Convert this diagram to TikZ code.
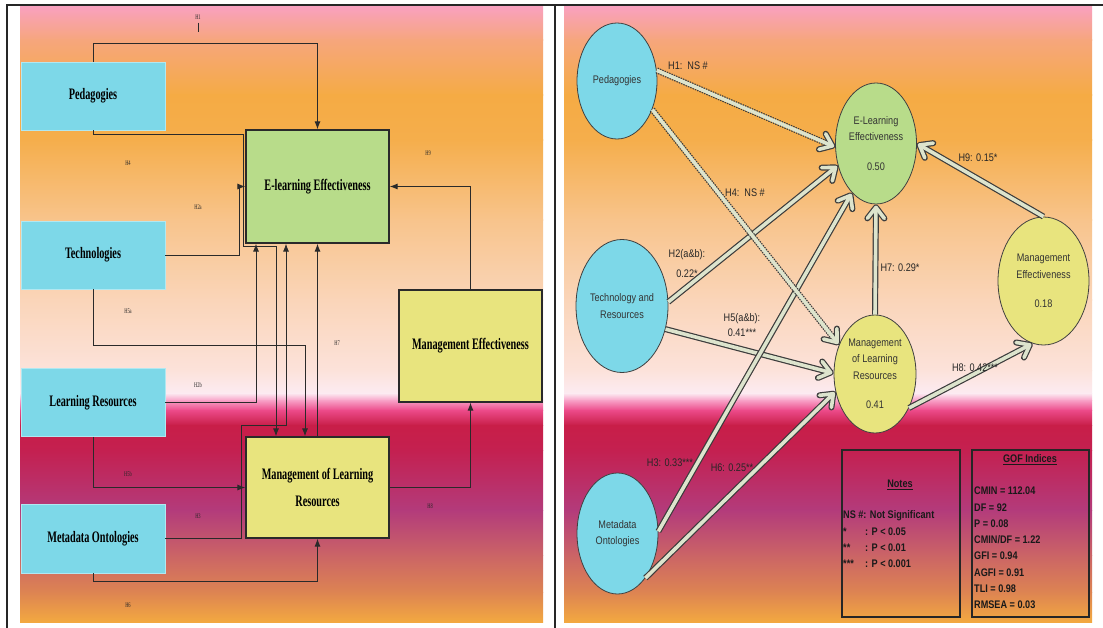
\documentclass[tikz,border=0pt]{standalone}
\usepackage{fontspec}
\setmainfont{Liberation Serif}
\newfontfamily\narrowserif[FakeStretch=0.64]{Liberation Serif}
\newfontfamily\narrowsans[FakeStretch=0.83]{Liberation Sans}
\usetikzlibrary{arrows.meta,shapes.geometric}

\definecolor{boxcyan}{HTML}{7DD8E8}
\definecolor{boxgreen}{HTML}{B8DC8A}
\definecolor{boxyellow}{HTML}{E8E47E}
\definecolor{lineink}{HTML}{2A2A2A}
\definecolor{arrfill}{HTML}{DDE4CD}
\definecolor{arrline}{HTML}{3C3C3C}
\definecolor{bgA}{HTML}{F9A1BE}
\definecolor{bgB}{HTML}{F6A67C}
\definecolor{bgC}{HTML}{F5AB44}
\definecolor{bgD}{HTML}{F5AE4C}
\definecolor{bgE}{HTML}{F8C48C}
\definecolor{bgF}{HTML}{FAD5B9}
\definecolor{bgG}{HTML}{FCE2DA}
\definecolor{bgH}{HTML}{FCEBF2}
\definecolor{bgI}{HTML}{F8A2C8}
\definecolor{bgJ}{HTML}{EC4B8A}
\definecolor{bgK}{HTML}{C81E48}
\definecolor{bgL}{HTML}{C42050}
\definecolor{bgM}{HTML}{B33B7B}
\definecolor{bgN}{HTML}{CB6466}
\definecolor{bgO}{HTML}{DD8452}
\definecolor{bgP}{HTML}{F3A940}

\begin{document}
\begin{tikzpicture}[x=1pt,y=-1pt,
 srcbox/.style={rectangle,fill=boxcyan,draw=boxcyan!60!white,line width=0.6pt,minimum width=144,minimum height=68,inner sep=0,font=\narrowserif\bfseries\fontsize{16}{18}\selectfont},
 tgtbox/.style={rectangle,draw=lineink,line width=1.2pt,minimum width=143,inner sep=0,align=center,font=\narrowserif\bfseries\fontsize{16}{27}\selectfont},
 link/.style={draw=lineink,line width=0.9pt,-{Latex[length=8pt,width=6pt]}},
 hlab/.style={font=\narrowserif\fontsize{7}{8}\selectfont,inner sep=0,text=black!85},
 latent/.style={ellipse,draw=black!75,line width=0.8pt,inner sep=0,align=center,text=black!80,font=\narrowsans\fontsize{11}{16.5}\selectfont},
 effect/.style={draw=arrline,line width=6pt,-{Straight Barb[round,length=11pt,width=17pt,line width=6pt]},
   postaction={draw=arrfill,line width=3.6pt,shorten >=1.2pt,-{Straight Barb[round,length=11pt,width=17pt,line width=3.6pt]}}},
 nseffect/.style={draw=arrline,line width=6pt,dash pattern=on 1.5pt off 1pt,-{Straight Barb[round,length=11pt,width=17pt,line width=6pt]},
   postaction={draw=arrfill,solid,line width=3.6pt,shorten >=1.2pt,-{Straight Barb[round,length=11pt,width=17pt,line width=3.6pt]}}},
 plab/.style={font=\narrowsans\fontsize{11}{15}\selectfont,inner sep=0,align=center,text=black!85},
 gofbox/.style={rectangle,draw=black!85,line width=1.3pt,minimum height=167,inner sep=0},
 goftext/.style={font=\narrowsans\bfseries\fontsize{11}{13}\selectfont,inner sep=0,anchor=west,text=black!90}]
\useasboundingbox (0,0) rectangle (1103,628);
\fill[white] (0,0) rectangle (1103,628);
%background
\foreach \ya/\ca/\yb/\cb in {7/bgA/40/bgB,40/bgB/95/bgC,95/bgC/140/bgD,140/bgD/220/bgE,220/bgE/300/bgF,
  300/bgF/370/bgG,370/bgG/393/bgH,393/bgH/400/bgI,400/bgI/410/bgJ,410/bgJ/425/bgK,425/bgK/450/bgL,
  450/bgL/510/bgM,510/bgM/555/bgN,555/bgN/592/bgO,592/bgO/622/bgP}{
  \shade[top color=\ca,bottom color=\cb] (20,\ya) rectangle (543,\yb+0.5);
  \shade[top color=\ca,bottom color=\cb] (564,\ya) rectangle (1092,\yb+0.5);
}
\draw[black!85,line width=1.3pt] (7,628) -- (7,5) -- (1103,5);
\draw[black!85,line width=1.3pt] (555,5) -- (555,628);

%left: sources
\node[srcbox] (ped) at (93,96) {Pedagogies};
\node[srcbox] (tech) at (93,255) {Technologies};
\node[srcbox] (lres) at (93,402.5) {Learning Resources};
\node[srcbox,minimum height=69] (meta) at (93,538.5) {Metadata Ontologies};
%left: outcomes
\node[tgtbox,fill=boxgreen,minimum height=113] (elb) at (317.5,186.5) {E-learning Effectiveness};
\node[tgtbox,fill=boxyellow,minimum height=101] (mlrb) at (317.5,487.5) {Management of Learning\\Resources};
\node[tgtbox,fill=boxyellow,minimum height=112] (meb) at (470.5,346) {Management Effectiveness};

%left: paths
\draw[link] (ped.north) -- ++(0,-18) -| (elb.north);
\draw[link] (ped.south) -- ++(0,4) -| ([shift={(-2,3)}]elb.south west) -| ([xshift=-41.5pt]mlrb.north);
\draw[link] (tech.east) -- ++(74,0) |- (elb.west);
\draw[link] (tech.south) -- ++(0,56) -| ([xshift=-12.5pt]mlrb.north);
\draw[link] (lres.east) -| ([xshift=-61.5pt]elb.south);
\draw[link] (lres.south) |- (mlrb.west);
\draw[link] (meta.east) -- ++(76,0) -- ++(0,-113) -| ([xshift=-31.5pt]elb.south);
\draw[link] (meta.south) -- ++(0,8) -| (mlrb.south);
\draw[link] (mlrb.north) -- (elb.south);
\draw[link] (mlrb.east) -| (meb.south);
\draw[link] (meb.north) |- (elb.east);

%left: labels
\node[hlab] (lh1) at (198,17) {H1};
\draw[lineink,line width=0.6pt] (lh1.south) ++(0,3) -- ++(0,9);
\node[hlab] (lh4) at (128,163) {H4};
\node[hlab] (lh2a) at (198,207) {H2a};
\node[hlab] (lh5a) at (128,311) {H5a};
\node[hlab] (lh2b) at (198,385) {H2b};
\node[hlab] (lh5b) at (128,474) {H5b};
\node[hlab] (lh3) at (198,516) {H3};
\node[hlab] (lh6) at (128,605) {H6};
\node[hlab] (lh7) at (337,343) {H7};
\node[hlab] (lh8) at (430,506) {H8};
\node[hlab] (lh9) at (428,153) {H9};

%right: constructs
\node[latent,fill=boxcyan,minimum width=80,minimum height=116] (rped) at (617,81) {Pedagogies};
\node[latent,fill=boxcyan,minimum width=92,minimum height=133] (rtech) at (622,306) {Technology and\\Resources};
\node[latent,fill=boxcyan,minimum width=81,minimum height=121] (rmeta) at (617.5,533.5) {Metadata\\Ontologies};
\node[latent,fill=boxgreen,minimum width=81,minimum height=121] (relf) at (876,143.5) {E-Learning\\Effectiveness\\[13pt]0.50};
\node[latent,fill=boxyellow,minimum width=91,minimum height=128] (rme) at (1043.5,281) {Management\\Effectiveness\\[13pt]0.18};
\node[latent,fill=boxyellow,minimum width=82,minimum height=118] (rmlr) at (875,374) {Management\\of Learning\\Resources\\[13pt]0.41};

%right: paths
\draw[effect] (rtech.5) -- (relf.210);
\draw[effect] (rtech.-28) -- (rmlr.179);
\draw[effect] (rmeta.3) -- (relf.244);
\draw[effect] (rmeta.-58) -- (rmlr.204);
\draw[nseffect] (rped.15) -- (relf.185);
\draw[nseffect] (rped.-39) -- (rmlr.141);
\draw[effect] (rmlr.north) -- (relf.south);
\draw[effect] (rmlr.-45) -- (rme.-100);
\draw[effect] (rme.north) -- (relf.east);

%right: labels
\node[plab] (rh1) at (688,66) {H1:\ \ NS \#};
\node[plab] (rh4) at (745,193) {H4:\ \ NS \#};
\node[plab] (rh2) at (687,264) {H2(a\&b):\\[5pt]0.22*};
\node[plab] (rh5) at (742,325) {H5(a\&b):\\0.41***};
\node[plab] (rh3) at (670,463) {H3: 0.33***};
\node[plab] (rh6) at (732,468) {H6: 0.25**};
\node[plab] (rh7) at (900,268) {H7: 0.29*};
\node[plab] (rh8) at (975,368) {H8: 0.42***};
\node[plab] (rh9) at (978,158) {H9: 0.15*};

%notes
\node[gofbox,minimum width=118] (notes) at (901,533.5) {};
\node[goftext,anchor=center] (notestitle) at (900,485) {\underline{Notes}};
\node[goftext] (ns) at (843,516) {NS \#: Not Significant};
\foreach \s/\p [count=\i] in {*/0.05,**/0.01,***/0.001}{
  \node[goftext] (star\i) at (843,516+16*\i) {\s};
  \node[goftext] (pval\i) at (865,516+16*\i) {: P < \p};
}
\node[gofbox,minimum width=117] (gof) at (1030.5,533.5) {};
\node[goftext,anchor=center] (goftitle) at (1030,460) {\underline{GOF Indices}};
\foreach \t [count=\i from 0] in {CMIN = 112.04,DF = 92,P = 0.08,CMIN/DF = 1.22,GFI = 0.94,AGFI = 0.91,TLI = 0.98,RMSEA = 0.03}
  \node[goftext] (gof\i) at (974,491+16.3*\i) {\t};
\end{tikzpicture}
\end{document}
